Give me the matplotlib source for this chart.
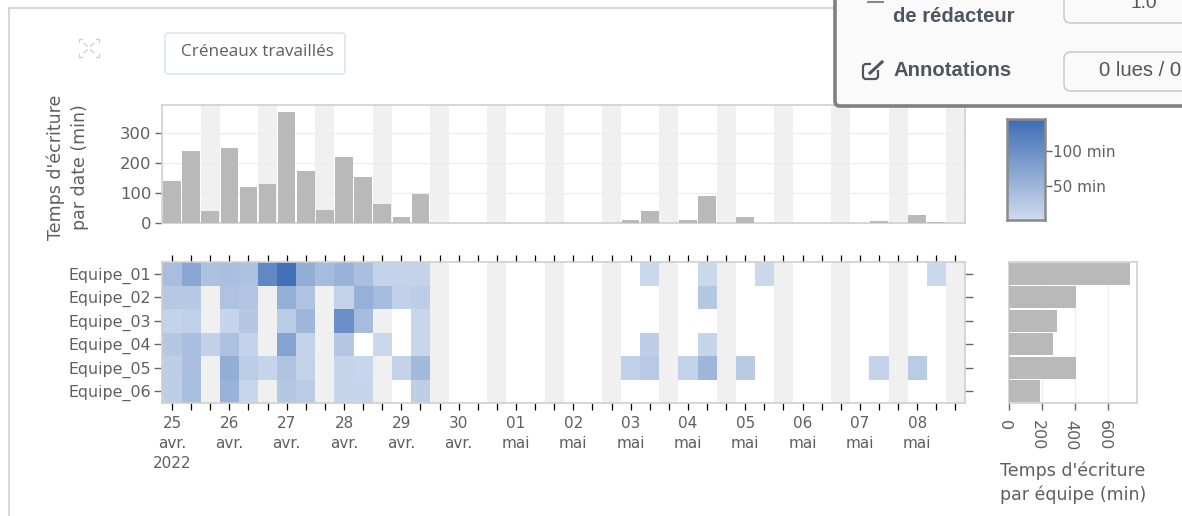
import numpy as np
import matplotlib
matplotlib.use("Agg")
import matplotlib.pyplot as plt
from matplotlib.colors import LinearSegmentedColormap
from matplotlib.patches import FancyBboxPatch, Rectangle
from matplotlib.transforms import ScaledTranslation

W, H = 1182, 516
N = np.nan

teams = ["Equipe_01", "Equipe_02", "Equipe_03", "Equipe_04", "Equipe_05", "Equipe_06"]
day_labels = ["25\navr.\n2022", "26\navr.", "27\navr.", "28\navr.", "29\navr.", "30\navr.", "01\nmai",
              "02\nmai", "03\nmai", "04\nmai", "05\nmai", "06\nmai", "07\nmai", "08\nmai"]
date_totals = [140, 240, 40, 250, 120, 130, 370, 175, 42, 220, 155, 62, 18, 95,
               0, 0, 0, 0, 0, 0, 0, 0, 0, 0, 10, 40, 0, 8, 90, 0, 20, 0,
               0, 0, 0, 0, 0, 6, 0, 25, 4, 0]
team_totals = [733, 406, 289, 267, 406, 188]

equipe_01 = [40, 70, 35, 38, 35, 110, 140, 62, 42, 55, 38, 14, 12, 12, N, N, N, N, N, N, N, N, N, N, N, 6, N, N, 6, N, N, 5, N, N, N, N, N, N, N, N, 5, N]
equipe_02 = [27, 27, N, 33, 30, N, 60, 32, N, 14, 58, 42, 16, 20, N, N, N, N, N, N, N, N, N, N, N, N, N, N, 28, N, N, N, N, N, N, N, N, N, N, N, N, N]
equipe_03 = [12, 16, N, 10, 28, N, 22, 50, N, 100, 42, N, N, 8, N, N, N, N, N, N, N, N, N, N, N, N, N, N, N, N, N, N, N, N, N, N, N, N, N, N, N, N]
equipe_04 = [28, 38, 15, 35, 12, N, 75, 12, N, 28, N, 6, N, 8, N, N, N, N, N, N, N, N, N, N, N, 18, N, N, 9, N, N, N, N, N, N, N, N, N, N, N, N, N]
equipe_05 = [18, 38, N, 62, 20, 9, 32, 14, N, 10, 8, N, 12, 45, N, N, N, N, N, N, N, N, N, N, 16, 25, N, 14, 50, N, 24, N, N, N, N, N, N, 12, N, 22, N, N]
equipe_06 = [18, 40, N, 55, 8, N, 28, 22, N, 10, 10, N, N, 18, N, N, N, N, N, N, N, N, N, N, N, N, N, N, N, N, N, N, N, N, N, N, N, N, N, N, N, N]
minutes = np.array([equipe_01, equipe_02, equipe_03, equipe_04, equipe_05, equipe_06], dtype=float)

BLUES = LinearSegmentedColormap.from_list("b", ["#cfdbee", "#3d6db5"])
VMIN, VMAX = 1, 146
TXT = "#5f5f5f"
GREY = "#f0f0f0"
BAR = "#b9b9b9"
SPINE = "#cfcfcf"
TICK = "#666666"

plt.rcParams["font.family"] = "DejaVu Sans"
fig = plt.figure(figsize=(W / 100, H / 100), dpi=100)


def axes_px(x0, y0, x1, y1, **kw):
    return fig.add_axes([x0 / W, 1 - y1 / H, (x1 - x0) / W, (y1 - y0) / H], **kw)


def style(ax):
    for s in ax.spines.values():
        s.set_color(SPINE)
        s.set_linewidth(1.2)


slots = np.arange(42)

# chrome layer beneath the plots
bg = axes_px(0, 0, W, H, zorder=0)
bg.set_xlim(0, W)
bg.set_ylim(H, 0)
bg.axis("off")
bg.plot([9, 9], [8, H], color="#d4d4d4", lw=1.3)
bg.plot([9, 840], [8, 8], color="#d4d4d4", lw=1.3)
bg.add_patch(FancyBboxPatch((165, 33), 180, 41, boxstyle="round,pad=0,rounding_size=3",
                            fc="white", ec="#dbe2ec", lw=1.1))
bg.text(257, 52, "Créneaux travaillés", fontsize=12.3, family="Open Sans", color=TXT, ha="center", va="center")
for sx, sy in [(-1, -1), (1, -1), (-1, 1), (1, 1)]:
    cx, cy = 89 + sx * 10, 48 + sy * 9
    bg.plot([cx, cx - sx * 3], [cy, cy], color="#d0d0d0", lw=0.9)
    bg.plot([cx, cx], [cy, cy - sy * 3], color="#d0d0d0", lw=0.9)
    bg.plot([89 + sx * 1.5, 89 + sx * 5], [48 + sy * 1.5, 48 + sy * 5], color="#d0d0d0", lw=0.9)

# bars per date
top = axes_px(162.5, 105, 965, 222.7, zorder=2)
for s in slots[slots % 3 == 2]:
    top.axvspan(s, s + 1, color=GREY, lw=0, zorder=0)
top.bar(slots + 0.5, date_totals, width=0.92, color=BAR, zorder=3)
top.set_xlim(0, 42)
top.set_ylim(0, 395)
top.set_xticks([])
top.set_yticks([0, 100, 200, 300])
top.grid(axis="y", color="#eeeeee", lw=1, zorder=1)
top.set_axisbelow(True)
top.tick_params(axis="y", length=5, width=1, color=TICK, labelcolor=TXT, labelsize=11.8, pad=3)
style(top)
top.text(-0.118, 0.473, "Temps d'écriture\npar date (min)", rotation=90, transform=top.transAxes,
         ha="center", va="center", color=TXT, fontsize=12.5, linespacing=1.43, multialignment="center")

# heatmap
heat = axes_px(162.5, 262, 965, 403, zorder=2)
for s in slots[slots % 3 == 2]:
    heat.axvspan(s, s + 1, color=GREY, lw=0, zorder=0)
heat.pcolormesh(np.arange(43), np.arange(7), np.ma.masked_invalid(minutes), cmap=BLUES,
                vmin=VMIN, vmax=VMAX, zorder=2, edgecolors="none", antialiased=False)
heat.set_xlim(0, 42)
heat.set_ylim(6, 0)
heat.set_yticks(np.arange(6) + 0.5, teams)
heat.set_xticks(slots + 0.5, [day_labels[i // 3] if i % 3 == 0 else "" for i in slots])
heat.tick_params(axis="x", top=True, bottom=True, length=5, width=0.9, pad=4, labelcolor=TXT, labelsize=11)
heat.tick_params(axis="y", left=True, right=True, length=5.5, width=1, color=TICK, pad=3, labelcolor=TXT, labelsize=11.4)
for lab in heat.get_xticklabels():
    lab.set_linespacing(1.42)
for tick, s in zip(heat.xaxis.get_major_ticks(), slots):
    col = "#bdbdbd" if s % 3 == 2 else TICK
    tick.tick1line.set_color(col)
    tick.tick2line.set_color(col)
style(heat)

# bars per team
side = axes_px(1008.5, 262, 1137, 403, zorder=2)
side.barh(np.arange(6) + 0.5, team_totals, height=0.92, color=BAR, zorder=3)
side.set_ylim(6, 0)
side.set_xlim(-2, 776)
side.set_yticks([])
side.set_xticks([0, 200, 400, 600])
side.tick_params(axis="x", length=5, width=1, color=TICK, labelcolor=TXT, labelsize=11.5, labelrotation=-90, pad=7)
for lab in side.get_xticklabels():
    lab.set_transform(lab.get_transform() + ScaledTranslation(-4 / 100, 0, fig.dpi_scale_trans))
side.grid(axis="x", color="#eeeeee", lw=1, zorder=1)
side.set_axisbelow(True)
style(side)
side.set_xlabel("Temps d'écriture\npar équipe (min)", color=TXT, fontsize=12.5, linespacing=1.43, labelpad=8)

# colour bar
cb = axes_px(1006.5, 119, 1044.5, 220, zorder=2)
gradient = np.linspace(VMAX, VMIN, 256)[:, None]
cb.imshow(gradient, aspect="auto", cmap=BLUES, vmin=VMIN, vmax=VMAX, extent=[0, 1, VMIN, VMAX])
cb.set_xticks([])
cb.yaxis.tick_right()
cb.set_yticks([50, 100], ["50 min", "100 min"])
cb.tick_params(axis="y", length=5, width=1, color=TICK, labelcolor=TXT, labelsize=11, pad=1)
for s in cb.spines.values():
    s.set_color("#8a8a8a")
    s.set_linewidth(1.8)

# overlay panel in the corner
fg = axes_px(0, 0, W, H, zorder=5)
fg.set_xlim(0, W)
fg.set_ylim(H, 0)
fg.axis("off")
fg.patch.set_alpha(0)
fg.add_patch(FancyBboxPatch((835, -30), 400, 136, boxstyle="round,pad=0,rounding_size=5",
                            fc="#fafafa", ec="#808080", lw=2.6))
for y0, y1 in [(-20, 23), (52, 91)]:
    fg.add_patch(FancyBboxPatch((1064, y0), 170, y1 - y0, boxstyle="round,pad=0,rounding_size=7",
                                fc="#fafafa", ec="#c9c9c9", lw=1.1))
fg.text(1144, 4, "1.0", fontsize=13.8, family="Liberation Sans", color="#555555", ha="center", va="center")
fg.text(1099, 71, "0 lues / 0", fontsize=14.6, family="Liberation Sans", color="#555555", ha="left", va="center")
fg.text(893, 17, "de rédacteur", fontsize=14.6, family="Liberation Sans", weight="bold", color="#4c5560", va="center")
fg.text(893, 71, "Annotations", fontsize=14.6, family="Liberation Sans", weight="bold", color="#4c5560", va="center")
fg.add_patch(FancyBboxPatch((863, 64), 15, 15, boxstyle="round,pad=0,rounding_size=3", fc="none", ec="#4c5560", lw=1.6))
fg.add_patch(Rectangle((871, 62), 11, 8, fc="#fafafa", ec="none"))
fg.plot([870, 882], [73, 62], color="#4c5560", lw=2.2)
fg.plot([868, 883], [1.5, 1.5], color="#8a8a8a", lw=1.5)
fig.savefig("out.png", dpi=100)
